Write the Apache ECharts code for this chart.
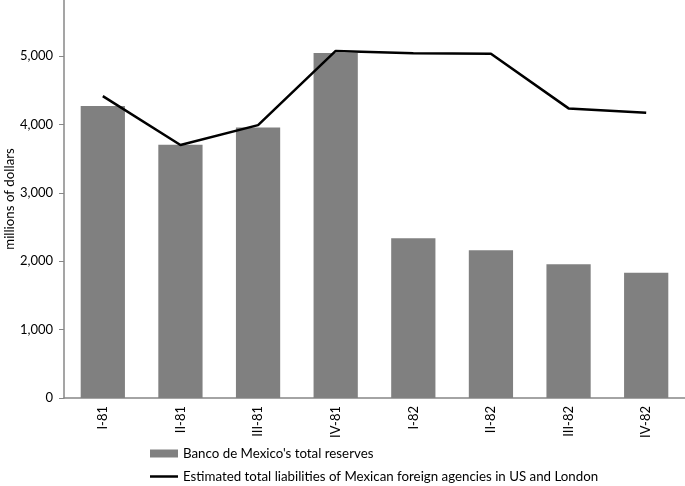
<!DOCTYPE html>
<html>
<head>
<meta charset="utf-8">
<script src="https://cdn.jsdelivr.net/npm/echarts@6/dist/echarts.min.js"></script>
<style>html,body{margin:0;padding:0;background:#fff;}#c{width:685px;height:486px;}</style>
</head>
<body>
<div id="c"></div>
<script>
const categories = ['I-81','II-81','III-81','IV-81','I-82','II-82','III-82','IV-82'];
const reserves = [4270, 3705, 3955, 5045, 2335, 2160, 1955, 1830];
const liabilities = [4415, 3700, 3990, 5075, 5040, 5035, 4235, 4170];
const yTicks = [0, 1000, 2000, 3000, 4000, 5000];
const yTitle = 'millions of dollars';
const barName = "Banco de Mexico's total reserves";
const lineName = 'Estimated total liabilities of Mexican foreign agencies in US and London';

const chart = echarts.init(document.getElementById('c'), null, {renderer:'canvas'});
const font = 'Lato, "Open Sans", sans-serif';
chart.setOption({
  animation: false,
  textStyle: {fontFamily: font},
  grid: {left: 64, right: 0, top: 0, bottom: 88, containLabel: false, outerBoundsMode: 'none'},
  graphic: [{
    type: 'text', x: 10, y: 199, rotation: Math.PI / 2,
    style: {text: yTitle, fontSize: 13.3, fontFamily: font, fill: '#000',
      align: 'center', verticalAlign: 'middle'}
  }],
  legend: [
    {left: 145, top: 442, itemWidth: 28, itemHeight: 8,
     textStyle: {fontSize: 13.3, color: '#000', fontFamily: font},
     data: [{name: barName, icon: 'rect'}]},
    {left: 145, top: 465, itemWidth: 28, itemHeight: 2.5,
     textStyle: {fontSize: 13.3, color: '#000', fontFamily: font},
     data: [{name: lineName, icon: 'rect', itemStyle: {color: '#000'}}]}
  ],
  xAxis: {
    type: 'category', data: categories,
    axisLine: {lineStyle: {color: '#878787', width: 1.5}},
    axisTick: {show: false},
    axisLabel: {rotate: 90, fontSize: 13, color: '#000', margin: 8}
  },
  yAxis: {
    type: 'value', min: 0, max: 5820,
    axisLine: {show: true, lineStyle: {color: '#878787', width: 1.5}},
    axisTick: {show: true, length: 5, lineStyle: {color: '#878787'}, customValues: yTicks},
    splitLine: {show: false},
    axisLabel: {fontSize: 13, color: '#000', margin: 11, customValues: yTicks,
      formatter: v => v.toLocaleString('en-US')}
  },
  series: [
    {name: barName, type: 'bar', data: reserves, barWidth: '57%',
     itemStyle: {color: '#808080'}},
    {name: lineName, type: 'line', data: liabilities, symbol: 'none', showSymbol: false,
     lineStyle: {color: '#000', width: 2.5}, itemStyle: {color: '#000'}}
  ]
});
</script>
</body>
</html>
